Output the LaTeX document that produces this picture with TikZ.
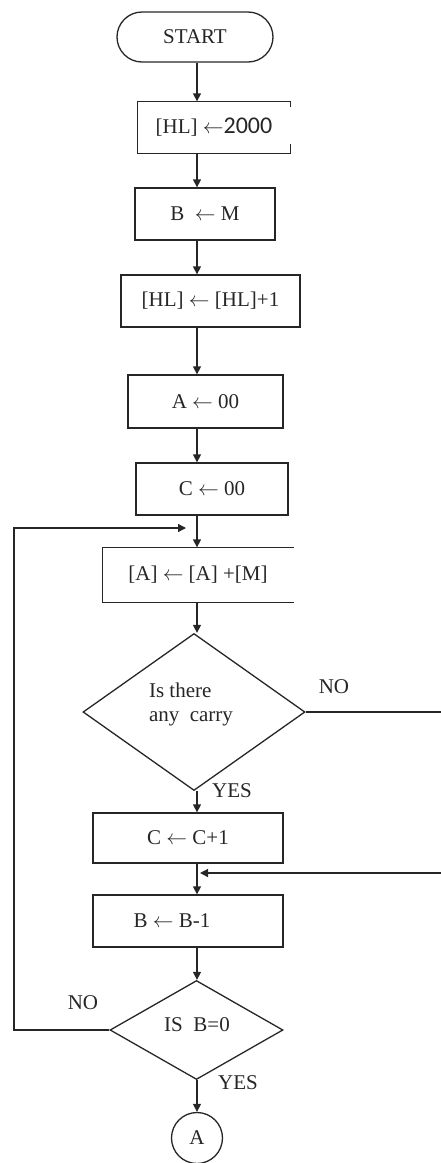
\documentclass[tikz,border=0pt]{standalone}
\usepackage{fontspec}
\setmainfont{Liberation Serif}
\newfontfamily\numfont{Carlito}
\usetikzlibrary{shapes.geometric,shapes.misc,arrows.meta}
\newcommand{\lto}{\ensuremath{\leftarrow}}

\begin{document}
\begin{tikzpicture}[x=1pt,y=-1pt,
  line width=1.3pt,
  ink/.style={draw=black!85, line width=1.3pt},
  every node/.style={text=black!85, font=\fontsize{21}{24}\selectfont},
  stepbox/.style={draw=black!85, rectangle, inner sep=0pt},
  openbox/.style={rectangle, inner sep=0pt},
  decision/.style={draw=black!85, diamond, inner sep=0pt},
  terminal/.style={draw=black!85, rounded rectangle, inner sep=0pt},
  connector/.style={draw=black!85, circle, inner sep=0pt, minimum size=51},
  arr/.style={draw=black!85, -{Triangle[length=8pt,width=8pt]}},
  lbl/.style={inner sep=0pt}
]
\useasboundingbox (0,0) rectangle (440,1163);

% main axis and loop rails
\coordinate (axis) at (197,0);
\coordinate (lx) at (14,0);
\coordinate (rx) at (442,0);
\coordinate (loopin) at (186,528);
\coordinate (mergein) at (200,873);

% terminal
\node[terminal, minimum width=156, minimum height=50] (start) at (195,37) {START};

% [HL] <- 2000 (right side only partly drawn)
\node[openbox, minimum width=152, minimum height=51] (b1) at (214,127.5) {[HL] \lto{\numfont\fontsize{24}{26}\selectfont 2000}};
\draw[ink] (b1.north east) ++(0,6) -- (b1.north east) -- (b1.north west) -- (b1.south west) -- (b1.south east) -- ++(0,-10);

\node[stepbox, minimum width=140, minimum height=52] (b2) at (205,214) {B~ \lto\ M};
\node[stepbox, minimum width=179, minimum height=52] (b3) at (210.5,301) {[HL] \lto\ [HL]+1};
\node[stepbox, minimum width=155, minimum height=53] (b4) at (205.5,401.5) {A \lto\ 00};
\node[stepbox, minimum width=152, minimum height=52] (b5) at (212,489) {C \lto\ 00};

% [A] <- [A]+[M] (open on the right)
\node[openbox, minimum width=190, minimum height=54] (b6) at (198,575) {[A] \lto\ [A] +[M]};
\draw[ink] (b6.north east) -- (b6.north west) -- (b6.south west) -- (b6.south east);

% carry test
\node[decision, minimum width=222, minimum height=157] (d1) at (194,712) {};
\node[lbl, align=left] (d1t) at (191,704) {Is there\\any~ carry};

\node[stepbox, minimum width=190, minimum height=50] (b7) at (188,838) {C \lto\ C+1};
\node[stepbox, minimum width=190, minimum height=52] (b8) at (188,921) {};
\node[lbl] (b8t) at (172,921) {B \lto\ B-1};

% counter test
\node[decision, minimum width=173, minimum height=99] (d2) at (196.5,1030) {};
\node[lbl] (d2t) at (197,1025) {IS~ B=0};

\node[connector] (ca) at (197,1138) {A};

% branch labels
\node[lbl] (no1) at (334,687) {NO};
\node[lbl] (yes1) at (232,791) {YES};
\node[lbl] (no2) at (83,1003) {NO};
\node[lbl] (yes2) at (238,1083) {YES};

% flow
\draw[arr] (start.south -| axis) -- (b1.north -| axis);
\draw[arr] (b1.south -| axis) -- (b2.north -| axis);
\draw[arr] (b2.south -| axis) -- (b3.north -| axis);
\draw[arr] (b3.south -| axis) -- (b4.north -| axis);
\draw[arr] (b4.south -| axis) -- (b5.north -| axis);
\draw[arr] (b5.south -| axis) -- (b6.north -| axis);
\draw[arr] (b6.south -| axis) -- (d1.north -| axis);
\draw[arr] (d1.south -| axis) -- (b7.north -| axis);
\draw[arr] (b7.south -| axis) -- (b8.north -| axis);
\draw[arr] (b8.south -| axis) -- (d2.north -| axis);
\draw[arr] (d2.south -| axis) -- (ca.north -| axis);

% NO from carry test joins before B <- B-1
\draw[arr] (d1.east) -- (d1.east -| rx) |- (mergein);
% NO from counter test loops back above [A] <- [A]+[M]
\draw[arr] (d2.west) -- (d2.west -| lx) |- (loopin);
\end{tikzpicture}
\end{document}
